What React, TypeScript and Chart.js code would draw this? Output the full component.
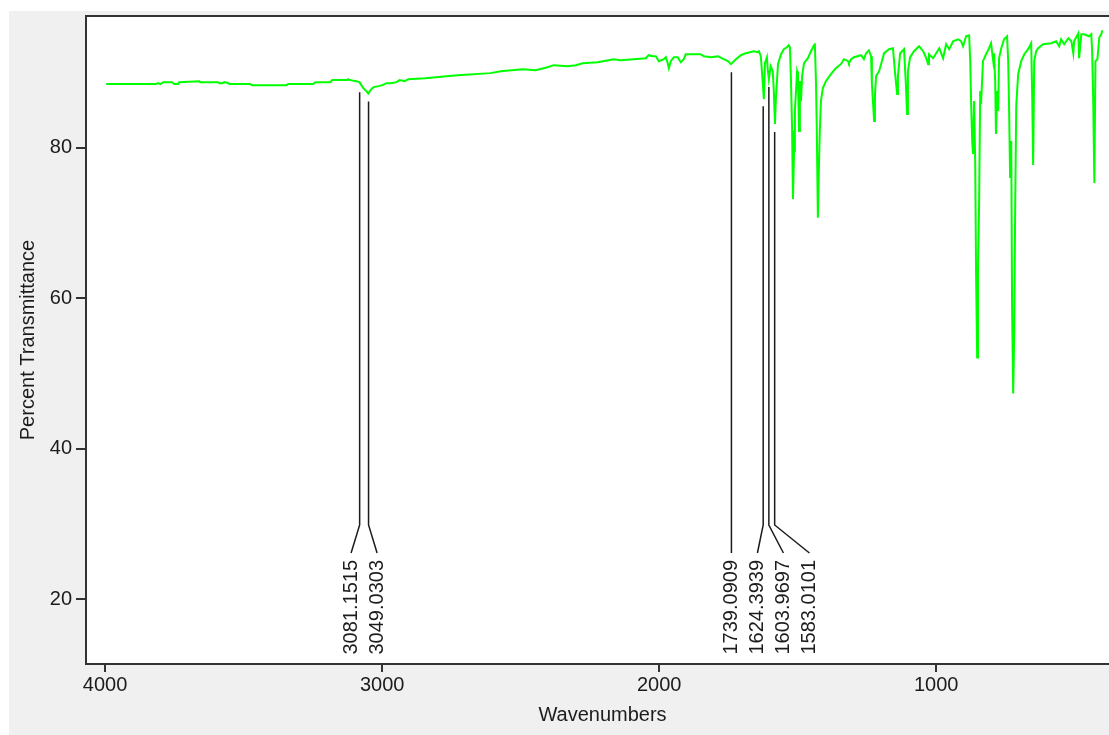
import React, { useEffect, useRef } from "react";
import { Chart, registerables } from "chart.js";

Chart.register(...registerables);

// ---- Spectrum data (wavenumber in cm-1, percent transmittance) ----
const wavenumbersHigh = [
  3996, 3874, 3816, 3808, 3801, 3790, 3758, 3751, 3736, 3733,
  3660, 3657, 3592, 3588, 3577, 3570, 3555, 3552, 3476, 3469,
  3346, 3339, 3249, 3241, 3187, 3180, 3126, 3122, 3115, 3093,
  3082, 3075, 3068, 3057, 3050, 3042, 3031, 3013, 2999, 2984,
  2970, 2948, 2937, 2919, 2912,
];
const transmittanceHigh = [
  88.45, 88.45, 88.45, 88.58, 88.45, 88.71, 88.71, 88.45, 88.45, 88.71,
  88.84, 88.71, 88.71, 88.58, 88.58, 88.71, 88.58, 88.45, 88.45, 88.31,
  88.31, 88.45, 88.45, 88.71, 88.71, 88.98, 88.98, 89.11, 88.98, 88.84,
  88.71, 88.31, 87.92, 87.52, 87.2, 87.65, 88.05, 88.18, 88.31, 88.58,
  88.58, 88.71, 88.98, 88.84, 88.98,
];
const wavenumbersLow = [
  2905, 2844, 2807, 2728, 2609, 2572, 2493, 2446, 2403, 2381,
  2330, 2301, 2276, 2222, 2164, 2139, 2092, 2048, 2038, 2023,
  2012, 2001, 1983, 1976, 1969, 1965, 1958, 1947, 1933, 1922,
  1911, 1904, 1850, 1839, 1814, 1788, 1767, 1752, 1741, 1723,
  1705, 1687, 1658, 1644, 1640, 1633, 1629, 1622, 1618, 1611,
  1608, 1604, 1600, 1597, 1590, 1586, 1582, 1579, 1571, 1560,
  1550, 1539, 1532, 1528, 1524, 1520, 1517, 1513, 1510, 1506,
  1502, 1499, 1495, 1492, 1488, 1484, 1477, 1463, 1452, 1441,
  1438, 1434, 1431, 1427, 1423, 1420, 1416, 1409, 1398, 1380,
  1362, 1344, 1333, 1318, 1315, 1307, 1297, 1271, 1261, 1253,
  1243, 1235, 1232, 1224, 1221, 1217, 1206, 1199, 1188, 1170,
  1156, 1149, 1141, 1138, 1130, 1116, 1109, 1105, 1102, 1094,
  1080, 1062, 1047, 1036, 1029, 1026, 1011, 1000, 989, 975,
  964, 953, 939, 921, 910, 903, 892, 881, 877, 874,
  870, 867, 863, 859, 856, 852, 849, 845, 841, 838,
  831, 820, 809, 802, 794, 791, 787, 784, 780, 776,
  773, 765, 755, 744, 740, 737, 733, 729, 726, 722,
  718, 715, 711, 704, 693, 682, 668, 657, 653, 650,
  646, 639, 632, 614, 585, 567, 556, 549, 538, 523,
  512, 505, 502, 487, 484, 476, 466, 448, 440, 437,
  433, 429, 425, 418, 411, 404, 400,
];
const transmittanceLow = [
  89.11, 89.24, 89.37, 89.64, 89.91, 90.17, 90.44, 90.30, 90.70, 90.97,
  90.83, 90.97, 91.23, 91.36, 91.76, 91.63, 91.76, 91.89, 92.29, 92.16,
  92.16, 91.50, 91.76, 92.03, 91.23, 90.57, 91.50, 92.03, 92.03, 91.36,
  91.76, 92.42, 92.42, 92.16, 92.03, 92.16, 91.76, 91.50, 91.10, 91.76,
  92.29, 92.56, 92.82, 92.69, 92.82, 92.16, 90.17, 86.46, 91.23, 92.03,
  90.44, 89.11, 90.17, 90.83, 90.17, 87.52, 83.15, 86.19, 91.10, 92.42,
  93.09, 93.35, 93.62, 93.35, 88.84, 82.22, 73.20, 79.57, 84.87, 87.52,
  90.17, 89.77, 82.22, 88.84, 86.19, 89.51, 91.23, 91.89, 92.82, 93.62,
  93.88, 88.84, 82.61, 70.68, 77.84, 82.22, 86.19, 87.92, 88.84, 89.77,
  90.57, 91.10, 91.76, 91.50, 91.23, 91.76, 92.03, 92.29, 91.76, 92.56,
  92.95, 92.16, 88.45, 83.54, 86.86, 89.51, 90.17, 91.10, 92.56, 93.09,
  93.22, 90.17, 87.12, 89.51, 92.56, 93.09, 88.18, 84.47, 90.17, 92.03,
  92.82, 93.48, 92.82, 91.89, 91.10, 92.42, 91.89, 92.56, 93.22, 91.89,
  93.75, 93.09, 94.15, 94.41, 94.15, 93.48, 94.81, 94.94, 91.50, 86.19,
  80.89, 79.17, 86.19, 77.84, 63.39, 52.12, 63.66, 72.67, 87.52, 85.80,
  91.50, 92.42, 93.22, 93.88, 91.50, 92.56, 88.84, 81.82, 87.52, 84.87,
  91.89, 93.22, 94.41, 94.81, 91.50, 85.80, 75.99, 80.89, 59.02, 47.35,
  55.70, 71.35, 85.53, 89.77, 91.50, 92.42, 93.09, 93.88, 86.19, 77.71,
  91.50, 92.82, 93.22, 93.75, 93.88, 94.15, 93.48, 94.41, 93.75, 94.55,
  94.15, 92.56, 94.15, 95.21, 91.89, 95.08, 95.08, 94.81, 95.08, 92.82,
  86.19, 75.32, 91.50, 91.76, 94.68, 95.08, 95.61,
];

const xTickValues = [4000, 3000, 2000, 1000];
const yTickValues = [20, 40, 60, 80];
const peakWavenumbers = [3081.1515, 3049.0303, 1739.0909, 1624.3939, 1603.9697, 1583.0101];

const X_MIN = 340;
const X_MAX = 4069;
const Y_MIN = 11.4;
const Y_MAX = 97.5;

const FONT = '"Liberation Sans", Arial, sans-serif';
const TEXT = "#1c1c1c";
const AXIS = "#333333";

const allWn = wavenumbersHigh.concat(wavenumbersLow);
const allT = transmittanceHigh.concat(transmittanceLow);

function transAt(wn: number): number {
  for (let i = 0; i < allWn.length - 1; i++) {
    const a = allWn[i];
    const b = allWn[i + 1];
    if (wn <= a && wn >= b) {
      const f = (a - wn) / (a - b);
      return allT[i] + (allT[i + 1] - allT[i]) * f;
    }
  }
  return allT[allT.length - 1];
}

const framePlugin = {
  id: "frame",
  beforeDraw(chart: any) {
    const { ctx, width, height, chartArea: a } = chart;
    ctx.save();
    ctx.fillStyle = "#ffffff";
    ctx.fillRect(0, 0, width, height);
    ctx.fillStyle = "#f0f0f0";
    ctx.fillRect(9, 11, width - 9, height - 11);
    ctx.fillStyle = "#ffffff";
    ctx.fillRect(a.left, a.top, a.right - a.left, a.bottom - a.top);
    ctx.restore();
  },
  afterDraw(chart: any) {
    const { ctx, chartArea: a } = chart;
    ctx.save();
    ctx.strokeStyle = AXIS;
    ctx.lineWidth = 2;
    ctx.beginPath();
    ctx.moveTo(a.left - 1, a.top);
    ctx.lineTo(a.right + 2, a.top);
    ctx.stroke();
    ctx.restore();
  },
};

const peakPlugin = {
  id: "peaks",
  afterDatasetsDraw(chart: any) {
    const { ctx, chartArea: a, scales } = chart;
    const xs = scales.x;
    const ys = scales.y;
    const items = peakWavenumbers
      .map((wn) => {
        let minT = Infinity;
        for (let d = -4; d <= 4; d += 0.5) minT = Math.min(minT, transAt(wn + d));
        return { wn, px: xs.getPixelForValue(wn), py: ys.getPixelForValue(minT) + 8 };
      })
      .sort((p, q) => p.px - q.px);

    const GAP = 26;
    const groups: any[][] = [];
    for (const it of items) {
      const g = groups[groups.length - 1];
      if (g && it.px - g[g.length - 1].px < GAP) g.push(it);
      else groups.push([it]);
    }
    const pos: number[] = [];
    for (const g of groups) {
      const mean = g.reduce((s, i) => s + i.px, 0) / g.length;
      g.forEach((_it, k) => pos.push(mean + (k - (g.length - 1) / 2) * GAP));
    }
    for (let i = 1; i < pos.length; i++) {
      if (pos[i] < pos[i - 1] + GAP) pos[i] = pos[i - 1] + GAP;
    }

    const yElbow = a.bottom - 139;
    const yEnd = a.bottom - 111;
    const yText = a.bottom - 104;

    ctx.save();
    ctx.strokeStyle = TEXT;
    ctx.lineWidth = 1.5;
    items.forEach((it, i) => {
      ctx.beginPath();
      ctx.moveTo(it.px, it.py);
      ctx.lineTo(it.px, yElbow);
      ctx.lineTo(pos[i], yEnd);
      ctx.stroke();
      ctx.save();
      ctx.translate(pos[i], yText);
      ctx.rotate(-Math.PI / 2);
      ctx.font = `20px ${FONT}`;
      ctx.fillStyle = TEXT;
      ctx.textAlign = "right";
      ctx.textBaseline = "middle";
      ctx.fillText(it.wn.toFixed(4), 0, 0);
      ctx.restore();
    });
    ctx.restore();
  },
};

export default function App() {
  const canvasRef = useRef<HTMLCanvasElement | null>(null);

  useEffect(() => {
    const canvas = canvasRef.current;
    if (!canvas) return;
    Chart.defaults.font.family = FONT;

    const points = allWn.map((w, i) => ({ x: w, y: allT[i] }));

    const chart = new Chart(canvas, {
      type: "line",
      data: {
        datasets: [
          {
            data: points,
            borderColor: "#00ff00",
            borderWidth: 2,
            borderJoinStyle: "miter",
            pointRadius: 0,
            tension: 0,
            fill: false,
          },
        ],
      },
      options: {
        animation: false,
        responsive: false,
        devicePixelRatio: 1,
        events: [],
        layout: { padding: { top: 15, right: 6, bottom: 0, left: 0 } },
        plugins: {
          legend: { display: false },
          tooltip: { enabled: false },
        },
        scales: {
          x: {
            type: "linear",
            reverse: true,
            min: X_MIN,
            max: X_MAX,
            afterBuildTicks: (s: any) => {
              s.ticks = xTickValues.map((v) => ({ value: v }));
            },
            afterFit: (s: any) => {
              s.height = 71;
            },
            ticks: {
              autoSkip: false,
              maxRotation: 0,
              minRotation: 0,
              padding: 1,
              color: TEXT,
              font: { family: FONT, size: 20 },
              callback: (v: any) => String(v),
            },
            grid: {
              display: true,
              drawOnChartArea: false,
              drawTicks: true,
              tickLength: 8,
              color: AXIS,
              lineWidth: 2,
            },
            border: { display: true, color: AXIS, width: 2 },
            title: {
              display: true,
              text: "Wavenumbers",
              color: TEXT,
              font: { family: FONT, size: 20 },
              padding: { top: 0, bottom: 8 },
            },
          },
          y: {
            type: "linear",
            min: Y_MIN,
            max: Y_MAX,
            afterBuildTicks: (s: any) => {
              s.ticks = yTickValues.map((v) => ({ value: v }));
            },
            afterFit: (s: any) => {
              s.width = 86;
            },
            ticks: {
              autoSkip: false,
              padding: 4,
              color: TEXT,
              font: { family: FONT, size: 20 },
              callback: (v: any) => String(v),
            },
            grid: {
              display: true,
              drawOnChartArea: false,
              drawTicks: true,
              tickLength: 10,
              color: AXIS,
              lineWidth: 2,
            },
            border: { display: true, color: AXIS, width: 2 },
            title: {
              display: true,
              text: "Percent Transmittance",
              color: TEXT,
              font: { family: FONT, size: 20 },
              padding: { top: 16, bottom: 0 },
            },
          },
        },
      },
      plugins: [framePlugin, peakPlugin],
    } as any);

    return () => chart.destroy();
  }, []);

  return (
    <div
      style={{
        position: "absolute",
        left: 0,
        top: 0,
        width: 1109,
        height: 735,
        overflow: "hidden",
        background: "#ffffff",
      }}
    >
      <canvas ref={canvasRef} width={1125} height={735} style={{ display: "block" }} />
    </div>
  );
}
